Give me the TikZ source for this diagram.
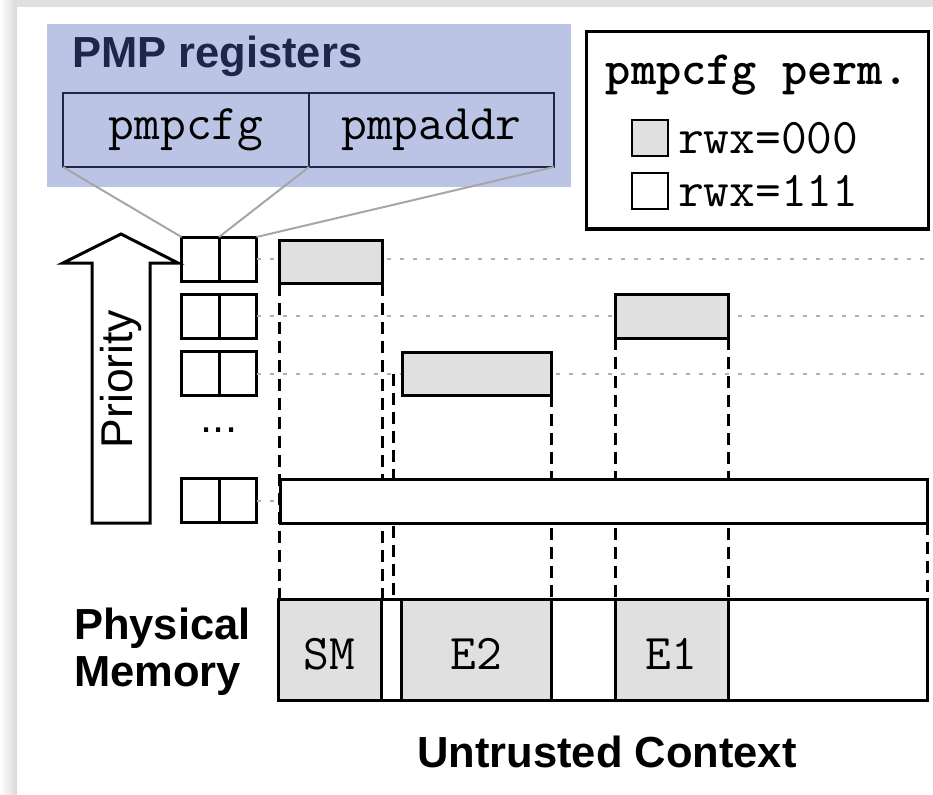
\documentclass[tikz,border=0pt]{standalone}
\usepackage{fontspec}
\setmainfont{Liberation Sans}
\usepackage{tikz}
\usetikzlibrary{positioning}
\definecolor{pmpblue}{RGB}{188,196,230}
\definecolor{pmpnavy}{RGB}{32,38,74}
\definecolor{permgray}{RGB}{224,224,224}
\definecolor{guidegray}{RGB}{176,176,176}
\newcommand{\bigtext}{\fontsize{43.5}{47}\selectfont}
\newcommand{\codetext}{\ttfamily\fontsize{50}{54}\selectfont}

\begin{document}
\begin{tikzpicture}[
  x=1pt, y=-1pt,
  every node/.style={font=\bigtext},
  cell/.style={draw, line width=3pt, inner sep=0pt, outer sep=0pt},
  regcell/.style={cell, minimum width=37.5pt, minimum height=44pt},
  region/.style={cell, fill=permgray, minimum height=43pt},
  memcell/.style={cell, minimum height=101pt, font=\codetext, text height=40pt, text depth=0pt},
  pmpcell/.style={draw=pmpnavy, line width=2.5pt, minimum height=74pt, inner sep=0pt, outer sep=0pt, font=\codetext},
  swatch/.style={cell, line width=2.5pt, minimum size=36pt},
  bound/.style={line width=3pt, dash pattern=on 12pt off 7pt},
  guide/.style={guidegray, line width=2pt, dash pattern=on 4pt off 9pt},
  zoomline/.style={draw=gray!70, line width=2pt}
]
  \useasboundingbox (0,0) rectangle (933,794);
  % frame shadow
  \shade[left color=white, right color=black!15] (0,0) rectangle (17,794);
  \fill[black!12] (17,0) rectangle (933,7);

  % PMP registers
  \node[fill=pmpblue, minimum width=524pt, minimum height=163pt, inner sep=0pt] (pmpbg) at (309,105.5) {};
  \node[anchor=west, text=pmpnavy, font=\bfseries\bigtext, inner sep=0pt] (pmptitle) at (72,56) {PMP registers};
  \node[pmpcell, minimum width=246pt] (pmpcfg) at (186,130) {pmpcfg};
  \node[pmpcell, minimum width=245pt, right=0pt of pmpcfg] (pmpaddr) {pmpaddr};

  % Legend
  \node[cell, minimum width=342pt, minimum height=197pt] (legend) at (757,130.5) {};
  \node[font=\ttfamily\bfseries\fontsize{48}{52}\selectfont] (legendtitle) at (757,75) {pmpcfg perm.};
  \node[swatch, fill=permgray] (sw0) at (650,138) {};
  \node[swatch] (sw1) at (650,191) {};
  \node[right=10pt of sw0, inner sep=0pt, font=\codetext] (perm0) {rwx=000};
  \node[right=10pt of sw1, inner sep=0pt, font=\codetext] (perm1) {rwx=111};

  % Priority
  \draw[line width=3pt] (92,523) -- (92,263) -- (63,263) -- (121,234) -- (178,263) -- (150,263) -- (150,523) -- cycle;
  \node[rotate=90, font=\fontsize{44.5}{47}\selectfont] (prio) at (121,379) {Priority};

  % register entries
  \foreach \r/\y in {1/259, 2/316, 3/373.5, 4/500.5} {
    \node[regcell] (reg\r a) at (200.25,\y) {};
    \node[regcell, right=0pt of reg\r a] (reg\r b) {};
  }
  \node (dots) at (219,430) {...};

  \draw[zoomline] (pmpcfg.south west) -- (reg1a.north west);
  \draw[zoomline] (pmpcfg.south east) -- (reg1a.north east);
  \draw[zoomline] (pmpaddr.south east) -- (reg1b.north east);

  % Physical memory
  \node[memcell, fill=permgray, minimum width=103pt] (memsm) at (329.5,649.5) {SM};
  \node[memcell, minimum width=20pt, right=0pt of memsm] (memgap) {};
  \node[memcell, fill=permgray, minimum width=150pt, right=0pt of memgap] (meme2) {E2};
  \node[memcell, minimum width=64pt, right=0pt of meme2] (memfree) {};
  \node[memcell, fill=permgray, minimum width=113pt, right=0pt of memfree] (meme1) {E1};
  \node[memcell, minimum width=199pt, right=0pt of meme1] (memrest) {};

  \draw[guide] (reg1b.east) -- (reg1b.east -| memrest.east);
  \draw[guide] (reg2b.east) -- (reg2b.east -| memrest.east);
  \draw[guide] (reg3b.east) -- (reg3b.east -| memrest.east);
  \draw[guide] (reg4b.east) -- (reg4b.east -| memsm.west);

  % Regions
  \node[region, minimum width=103pt] (smreg) at (330.5,262) {};
  \node[region, minimum width=113pt, minimum height=44pt] (e1reg) at (671.5,316) {};
  \node[region, minimum width=149pt] (e2reg) at (476.5,373.5) {};

  \draw[bound] (smreg.south west) -- (smreg.south west |- memsm.north);
  \draw[bound] (smreg.south east) -- (smreg.south east |- memsm.north);
  \draw[bound] ([xshift=-9pt]e2reg.west) -- ([xshift=-9pt]e2reg.west |- memgap.north);
  \draw[bound] (e2reg.south east) -- (e2reg.south east |- meme2.north);
  \draw[bound] (e1reg.south west) -- (e1reg.south west |- meme1.north);
  \draw[bound] (e1reg.south east) -- (e1reg.south east |- meme1.north);

  \node[cell, fill=white, minimum width=647pt, minimum height=44pt] (allreg) at (603.5,501) {};
  \draw[bound] (allreg.south east) -- (allreg.south east |- memrest.north);

  % Labels
  \node[anchor=west, align=left, font=\bfseries\bigtext, inner sep=0pt] (physmem) at (74,652) {Physical\\Memory};
  \node[font=\bfseries\bigtext] (ctx) at (607,752) {Untrusted Context};
\end{tikzpicture}
\end{document}
